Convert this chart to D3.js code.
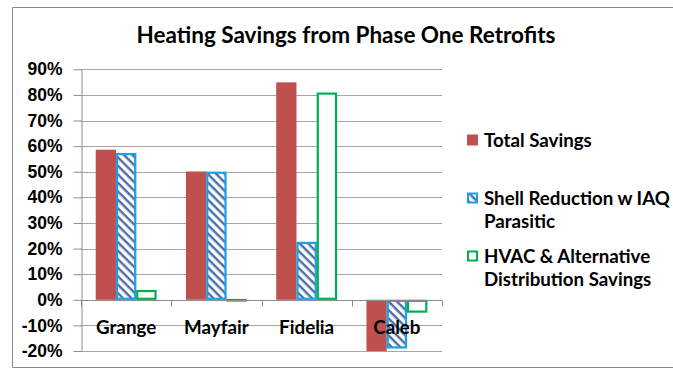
<!DOCTYPE html>
<html>
<head>
<meta charset="utf-8">
<script src="https://cdn.jsdelivr.net/npm/d3@7"></script>
<style>
  body { margin: 0; background: #fff; }
  svg { display: block; font-family: Lato, "Open Sans", sans-serif; font-weight: bold; }
</style>
</head>
<body>
<div id="chart-container"></div>
<script>
// Heating savings chart (percent)
var categories = ['Grange', 'Mayfair', 'Fidelia', 'Caleb']
var seriesNames = ['Total Savings', 'Shell Reduction w IAQ Parasitic', 'HVAC & Alternative Distribution Savings']
var totalSavings = [58.6, 50.1, 84.9, -20]
var shellReduction = [57.3, 50, 22.6, -19]
var hvacSavings = [3.8, 0.3, 80.9, -5]
var yTicks = [-20, -10, 0, 10, 20, 30, 40, 50, 60, 70, 80, 90]

var width = 673, height = 368
var plot = {left: 81, right: 442, top: 69.3, bottom: 351}

var series = [totalSavings, shellReduction, hvacSavings]
var data = categories.map((c, i) => ({cat: c, vals: series.map(s => s[i])}))

var svg = d3.select('#chart-container').append('svg')
    .attr('width', width)
    .attr('height', height)

// hatch for shell reduction
var defs = svg.append('defs')
defs.append('pattern')
    .attr('id', 'hatch')
    .attr('patternUnits', 'userSpaceOnUse')
    .attr('width', 6).attr('height', 6)
    .attr('patternTransform', 'rotate(45)')
    .call(p => p.append('rect').attr('width', 6).attr('height', 6).attr('fill', '#fff'))
    .call(p => p.append('rect').attr('width', 6).attr('height', 2.4).attr('fill', '#4a6ea8'))

// outer frame (cropped on the right)
svg.append('path')
    .attr('d', `M${width + 2},7.5 H12.5 V367.5 H${width + 2}`)
    .attr('fill', 'none')
    .attr('stroke', '#8c8c8c')

svg.append('text')
    .attr('x', 346).attr('y', 43)
    .attr('text-anchor', 'middle')
    .attr('font-size', 22.5)
    .text('Heating Savings from Phase One Retrofits')

var y = d3.scaleLinear().domain([-20, 90]).range([plot.bottom, plot.top])
var x0 = d3.scaleBand().domain(categories).range([plot.left, plot.right])
var inset = x0.bandwidth() * 0.163
var x1 = d3.scaleBand().domain(d3.range(3)).range([inset, x0.bandwidth() - inset])

// gridlines
svg.append('g')
    .selectAll('line')
    .data(yTicks)
    .join('line')
    .attr('x1', plot.left).attr('x2', plot.right)
    .attr('y1', d => Math.round(y(d)) + 0.5).attr('y2', d => Math.round(y(d)) + 0.5)
    .attr('stroke', '#a6a6a6')

// y axis
var yAxis = svg.append('g')
    .attr('transform', `translate(${plot.left + 0.5},0)`)
    .call(d3.axisLeft(y).tickValues(yTicks).tickFormat(d => d + '%').tickSize(8).tickPadding(11).tickSizeOuter(0))
yAxis.select('.domain').attr('stroke', '#8c8c8c')
yAxis.selectAll('.tick line').attr('stroke', '#8c8c8c')
yAxis.selectAll('.tick text').attr('font-size', 17.5).attr('fill', '#000').attr('font-family', null)

// bars
var colors = ['#c0504d', '#1ba1e2', '#00b050']
var groups = svg.append('g')
    .selectAll('g')
    .data(data)
    .join('g')
    .attr('transform', d => `translate(${x0(d.cat)},0)`)

groups.selectAll('rect')
    .data(d => d.vals.map((v, i) => ({v: v, i: i})))
    .join('rect')
    .attr('x', d => x1(d.i) + (d.i == 0 ? 0 : 1))
    .attr('width', d => x1.bandwidth() - (d.i == 0 ? 0 : 2))
    .attr('y', d => y(Math.max(0, d.v)) + (d.i == 0 ? 0 : 1))
    .attr('height', d => Math.max(0.5, Math.abs(y(d.v) - y(0)) - (d.i == 0 ? 0 : 2)))
    .attr('fill', d => d.i == 0 ? colors[0] : d.i == 1 ? 'url(#hatch)' : '#fff')
    .attr('stroke', d => d.i == 0 ? 'none' : colors[d.i])
    .attr('stroke-width', 2.2)

// x axis at zero
var xAxis = svg.append('g')
    .attr('transform', `translate(0,${Math.round(y(0)) + 0.5})`)
xAxis.append('line')
    .attr('x1', plot.left).attr('x2', plot.right)
    .attr('stroke', '#8c8c8c')
xAxis.selectAll('.tk')
    .data(categories.map(c => x0(c)).concat([plot.right]))
    .join('line')
    .attr('x1', d => Math.round(d) + 0.5).attr('x2', d => Math.round(d) + 0.5)
    .attr('y1', 0).attr('y2', 6)
    .attr('stroke', '#8c8c8c')
xAxis.selectAll('text')
    .data(categories)
    .join('text')
    .attr('x', d => x0(d) + x0.bandwidth() / 2)
    .attr('y', 33)
    .attr('text-anchor', 'middle')
    .attr('font-size', 18.8)
    .text(d => d)

// legend
var legend = [
    {lines: ['Total Savings'], y: 140},
    {lines: ['Shell Reduction w IAQ', 'Parasitic'], y: 198},
    {lines: ['HVAC & Alternative', 'Distribution Savings'], y: 256}
]
var lg = svg.append('g')
    .selectAll('g')
    .data(legend)
    .join('g')
    .attr('transform', d => `translate(467,${d.y})`)
lg.append('rect')
    .attr('x', (d, i) => i == 0 ? 0 : 1).attr('y', (d, i) => i == 0 ? -5.5 : -4.5)
    .attr('width', (d, i) => i == 0 ? 11 : 9).attr('height', (d, i) => i == 0 ? 11 : 9)
    .attr('fill', (d, i) => i == 0 ? colors[0] : i == 1 ? 'url(#hatch)' : '#fff')
    .attr('stroke', (d, i) => i == 0 ? 'none' : colors[i])
    .attr('stroke-width', 2)
lg.append('text')
    .attr('x', 17)
    .attr('y', 6.5)
    .attr('font-size', 18.7)
    .selectAll('tspan')
    .data(d => d.lines)
    .join('tspan')
    .attr('x', 17)
    .attr('dy', (d, i) => i == 0 ? 0 : 23.5)
    .text(d => d)
</script>
</body>
</html>
